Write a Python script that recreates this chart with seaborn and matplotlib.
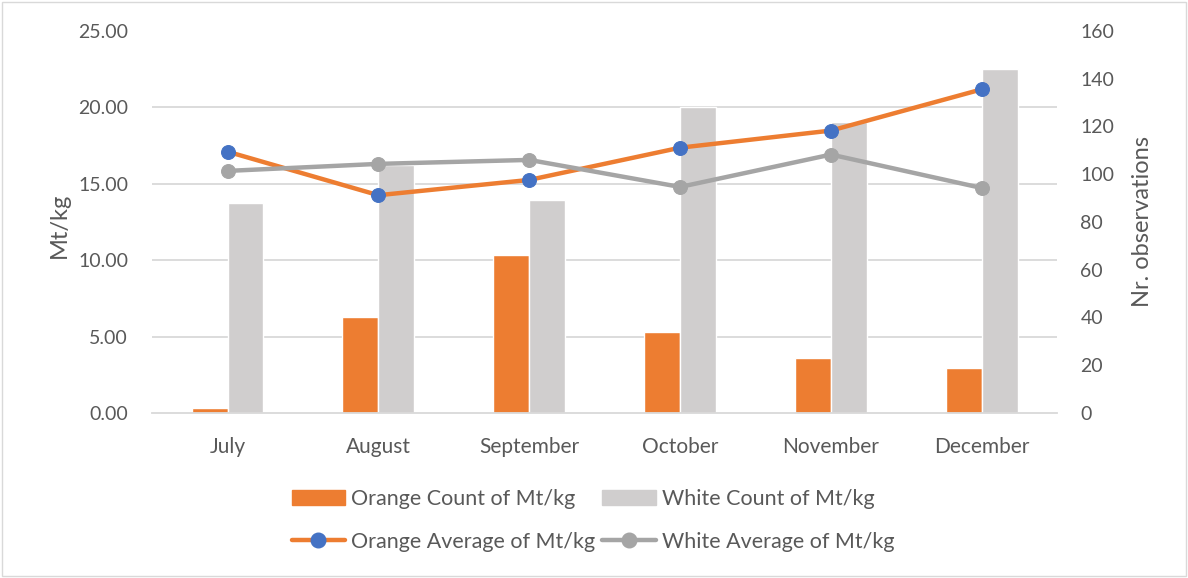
import matplotlib

matplotlib.use("Agg")
import matplotlib.pyplot as plt
import numpy as np
import pandas as pd
import seaborn as sns
from matplotlib.lines import Line2D
from matplotlib.patches import Patch, Rectangle
from matplotlib.ticker import FixedLocator

months = ["July", "August", "September", "October", "November", "December"]
orange_count = [2, 40, 66, 34, 23, 19]
white_count = [88, 104, 89, 128, 122, 144]
orange_avg = [17.10, 14.25, 15.25, 17.36, 18.48, 21.18]
white_avg = [15.84, 16.30, 16.56, 14.79, 16.91, 14.72]

ORANGE = "#ED7D31"
LIGHT = "#D0CECE"
GREY = "#A5A5A5"
BLUE = "#4472C4"
TXT = "#595959"

sns.set_style("white")
plt.rcParams["font.family"] = ["Lato", "DejaVu Sans"]

counts = pd.DataFrame(
    {
        "month": months * 2,
        "count": orange_count + white_count,
        "group": ["Orange"] * 6 + ["White"] * 6,
    }
)
avgs = pd.DataFrame(
    {
        "month": months * 2,
        "avg": orange_avg + white_avg,
        "group": ["Orange"] * 6 + ["White"] * 6,
    }
)

fig = plt.figure(figsize=(11.88, 5.78), dpi=100)
ax1 = fig.add_axes([0.128, 0.2855, 0.762, 0.661])
ax2 = ax1.twinx()

# bars on the right (secondary) axis
sns.barplot(
    data=counts,
    x="month",
    y="count",
    hue="group",
    palette=[ORANGE, LIGHT],
    width=0.477,
    saturation=1,
    ax=ax2,
    legend=False,
)
ax2.set_ylim(0, 160)
ax2.set_yticks(np.arange(0, 161, 20))
# gridlines follow the left axis ticks but sit behind the bars
ax2.yaxis.set_minor_locator(FixedLocator(np.linspace(0, 160, 6)))
ax2.grid(which="minor", axis="y", color="#D9D9D9", linewidth=1.3)
ax2.set_axisbelow(True)
ax2.tick_params(which="both", length=0, labelsize=14, labelcolor=TXT, pad=16.6)
ax2.set_ylabel("Nr. observations", fontsize=17, color=TXT)
ax2.yaxis.set_label_coords(1.083, 0.5)

# lines on the left axis, drawn above the bars
sns.lineplot(
    data=avgs.query("group == 'Orange'"),
    x="month",
    y="avg",
    color=ORANGE,
    linewidth=3.2,
    marker="o",
    markersize=10,
    markerfacecolor=BLUE,
    markeredgecolor=BLUE,
    ax=ax1,
)
sns.lineplot(
    data=avgs.query("group == 'White'"),
    x="month",
    y="avg",
    color=GREY,
    linewidth=3.2,
    marker="o",
    markersize=10,
    markerfacecolor=GREY,
    markeredgecolor=GREY,
    ax=ax1,
)
ax1.set_zorder(ax2.get_zorder() + 1)
ax1.patch.set_visible(False)
ax1.set_ylim(0, 25)
ax1.set_yticks(np.arange(0, 26, 5))
ax1.set_yticklabels([f"{v:.2f}" for v in np.arange(0, 26, 5)])
ax1.set_xlim(-0.5, 5.5)
ax1.set_xlabel("")
ax1.set_ylabel("Mt/kg", fontsize=17, color=TXT)
ax1.yaxis.set_label_coords(-0.0906, 0.49)
ax1.tick_params(axis="y", length=0, labelsize=14, labelcolor=TXT, pad=17.3)
ax1.tick_params(axis="x", length=0, labelsize=15, labelcolor=TXT, pad=17)
ax2.set_xlabel("")

for a in (ax1, ax2):
    for s in a.spines.values():
        s.set_visible(False)
ax1.spines["bottom"].set_visible(True)
ax1.spines["bottom"].set_color("#D9D9D9")
ax1.spines["bottom"].set_linewidth(1.3)

handles = [
    Patch(color=ORANGE),
    Line2D([], [], color=ORANGE, lw=3.2, marker="o", ms=10.5, mfc=BLUE, mec=BLUE),
    Patch(color=LIGHT),
    Line2D([], [], color=GREY, lw=3.2, marker="o", ms=10.5, mfc=GREY, mec=GREY),
]
labels = [
    "Orange Count of Mt/kg",
    "Orange Average of Mt/kg",
    "White Count of Mt/kg",
    "White Average of Mt/kg",
]
fig.legend(
    handles,
    labels,
    ncol=2,
    loc="center",
    bbox_to_anchor=(0.499, 0.100),
    frameon=False,
    fontsize=15.5,
    labelcolor=TXT,
    handlelength=2.5,
    handletextpad=0.25,
    columnspacing=0.35,
    labelspacing=1.05,
)

fig.add_artist(
    Rectangle(
        (0.002, 0.003), 0.996, 0.994, transform=fig.transFigure,
        fill=False, edgecolor="#D9D9D9", linewidth=1,
    )
)

fig.savefig("out.png", dpi=100)
